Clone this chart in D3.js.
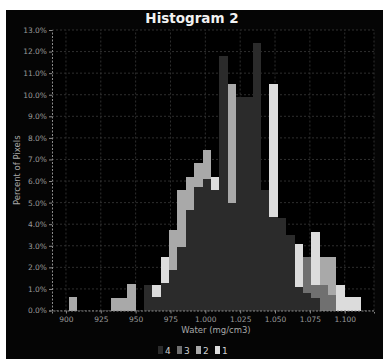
<!DOCTYPE html>
<html>
<head>
<meta charset="utf-8">
<script src="https://cdn.jsdelivr.net/npm/d3@7"></script>
<style>
  html, body { margin: 0; padding: 0; background: #fff; }
  svg { display: block; }
  .tick text { font-family: "DejaVu Sans", sans-serif; }
</style>
</head>
<body>
<svg id="chart"></svg>
<script>
// histogram bins: lower edge of first bin and bin width (mg/cm3)
const binLow = 0.89;
const binStep = 0.006;

// percent of pixels per bin, one list per class
const series1 = [0, 0, 0, 0, 0, 0, 0, 0, 0, 0, 0, 0, 1.2, 2.5, 0, 0, 0, 0, 0, 6.2,
  0, 0, 0, 0, 0, 0, 10.5, 0, 0, 3.1, 0, 3.65, 0, 0, 1.2, 0.63, 0.63, 0];
const series2 = [0, 0, 0.64, 0, 0, 0, 0, 0.6, 0.6, 1.25, 0, 0, 0, 0, 3.73, 5.58, 6.2, 6.82, 7.43, 0,
  0, 10.5, 0, 0, 0, 0, 0, 0, 0, 0, 0, 0, 2.5, 2.5, 0, 0, 0, 0];
const series3 = [0, 0, 0, 0, 0, 0, 0, 0, 0, 0, 0, 0, 0, 0, 0, 0, 0, 0, 0, 0,
  0, 0, 0, 0, 0, 0, 0, 0, 0, 0, 2.5, 1.2, 1.2, 0.7, 0, 0, 0, 0];
const series4 = [0, 0, 0, 0, 0, 0, 0, 0, 0, 0, 0, 1.2, 0.64, 1.26, 1.88, 2.96, 4.65, 5.74, 6.1, 5.58,
  11.8, 5.0, 9.9, 9.9, 12.4, 5.6, 4.35, 4.3, 3.5, 1.1, 0.8, 0.6, 0, 0, 0, 0, 0, 0];

const seriesNames = ["1", "2", "3", "4"];
const legendOrder = ["4", "3", "2", "1"];

const xTickValues = [0.900, 0.925, 0.950, 0.975, 1.000, 1.025, 1.050, 1.075, 1.100];
const xTickLabels = ["900", "925", "950", "975", "1.000", "1.025", "1.050", "1.075", "1.100"];
const yTickValues = [0, 1, 2, 3, 4, 5, 6, 7, 8, 9, 10, 11, 12, 13];

const W = 383, H = 359;
const margin = {top: 30, right: 9, bottom: 48.5, left: 52};
const colors = {"1": "#dcdcdc", "2": "#a9a9a9", "3": "#707070", "4": "#2b2b2b"};

const svg = d3.select("#chart").attr("width", W).attr("height", H);

// dark panel behind the whole chart
svg.append("rect")
  .attr("x", 6).attr("y", 10)
  .attr("width", W - 6).attr("height", H - 10)
  .attr("fill", "#050505");

const x = d3.scaleLinear()
  .domain([0.89, 1.121])
  .range([margin.left, W - margin.right]);

const y = d3.scaleLinear()
  .domain([0, 13])
  .range([H - margin.bottom, margin.top]);

const plot = svg.append("g");

plot.append("rect")
  .attr("x", x.range()[0]).attr("y", y(13))
  .attr("width", x.range()[1] - x.range()[0])
  .attr("height", y(0) - y(13))
  .attr("fill", "#000");

// grid
plot.append("g")
  .selectAll("line")
  .data(yTickValues)
  .join("line")
  .attr("x1", x.range()[0]).attr("x2", x.range()[1])
  .attr("y1", d => y(d)).attr("y2", d => y(d))
  .attr("stroke", "#3a3a3a")
  .attr("stroke-width", 0.8)
  .attr("stroke-dasharray", "2,2");

plot.append("g")
  .selectAll("line")
  .data(xTickValues.concat([x.domain()[1]]))
  .join("line")
  .attr("x1", d => x(d)).attr("x2", d => x(d))
  .attr("y1", y(0)).attr("y2", y(13))
  .attr("stroke", "#3a3a3a")
  .attr("stroke-width", 0.8)
  .attr("stroke-dasharray", "2,2");

// bars, drawn from class 1 (back) to class 4 (front)
const allSeries = [series1, series2, series3, series4];
allSeries.forEach(function (values, si) {
  plot.append("g")
    .selectAll("rect")
    .data(values.map((v, k) => ({k: k, v: v})).filter(d => d.v > 0))
    .join("rect")
    .attr("x", d => x(binLow + d.k * binStep))
    .attr("width", d => x(binLow + (d.k + 1) * binStep) - x(binLow + d.k * binStep))
    .attr("y", d => y(d.v))
    .attr("height", d => y(0) - y(d.v))
    .attr("fill", colors[seriesNames[si]])
    .attr("shape-rendering", "crispEdges");
});

// axes
const yAxis = svg.append("g")
  .attr("transform", "translate(" + margin.left + ",0)")
  .call(d3.axisLeft(y).tickValues(yTickValues)
    .tickFormat(d => d3.format(".1f")(d) + "%")
    .tickSize(3).tickPadding(2));

const xAxis = svg.append("g")
  .attr("transform", "translate(0," + y(0) + ")")
  .call(d3.axisBottom(x).tickValues(xTickValues)
    .tickFormat((d, i) => xTickLabels[i])
    .tickSize(3).tickPadding(3));

[yAxis, xAxis].forEach(function (ax) {
  ax.select(".domain")
    .attr("stroke", "#8a8a8a")
    .attr("stroke-dasharray", "2,1.5");
  ax.selectAll(".tick line").attr("stroke", "#8a8a8a");
  ax.selectAll(".tick text")
    .attr("fill", "#9a9a9a")
    .style("font-size", "7.5px");
});

// titles
svg.append("text")
  .attr("x", 192).attr("y", 23)
  .attr("text-anchor", "middle")
  .attr("fill", "#f2f2f2")
  .style("font-family", "DejaVu Sans, sans-serif")
  .style("font-weight", "bold")
  .style("font-size", "13.5px")
  .text("Histogram 2");

svg.append("text")
  .attr("x", (x.range()[0] + x.range()[1]) / 2 + 3)
  .attr("y", 333)
  .attr("text-anchor", "middle")
  .attr("fill", "#a8a8a8")
  .style("font-family", "DejaVu Sans, sans-serif")
  .style("font-size", "8.5px")
  .text("Water (mg/cm3)");

svg.append("text")
  .attr("transform", "translate(20," + (y(6.5)) + ") rotate(-90)")
  .attr("text-anchor", "middle")
  .attr("fill", "#a8a8a8")
  .style("font-family", "DejaVu Sans, sans-serif")
  .style("font-size", "8.5px")
  .text("Percent of Pixels");

// legend
const legend = svg.append("g").attr("transform", "translate(158,346)");
const item = legend.selectAll("g")
  .data(legendOrder)
  .join("g")
  .attr("transform", (d, i) => "translate(" + (i * 19) + ",0)");

item.append("rect")
  .attr("width", 5).attr("height", 8)
  .attr("fill", d => colors[d]);

item.append("text")
  .attr("x", 7).attr("y", 8)
  .attr("fill", "#cfcfcf")
  .style("font-family", "DejaVu Sans, sans-serif")
  .style("font-size", "9px")
  .text(d => d);
</script>
</body>
</html>
